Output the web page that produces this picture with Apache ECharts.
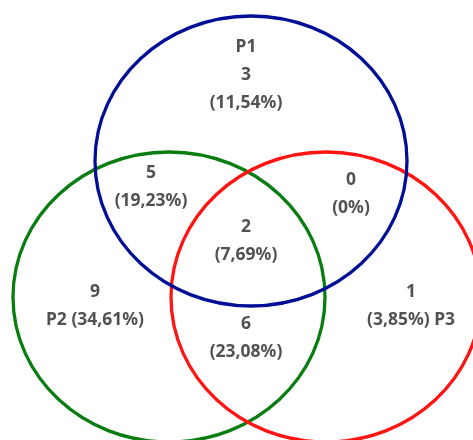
<!DOCTYPE html>
<html><head><meta charset="utf-8">
<script src="https://cdn.jsdelivr.net/npm/echarts@6/dist/echarts.min.js"></script>
<style>html,body{margin:0;padding:0;background:#fff}#c{width:473px;height:440px}</style>
</head><body><div id="c"></div>
<script>
// ---- data ----
const setNames = ['P1', 'P2', 'P3'];
const setColors = ['#000f96', '#0a7d12', '#ff1414'];
const regionSets = ['P1', 'P1∩P2', 'P1∩P3', 'P1∩P2∩P3', 'P2', 'P2∩P3', 'P3'];
const regionCounts = [3, 5, 0, 2, 9, 6, 1];
const regionPercents = ['11,54%', '19,23%', '0%', '7,69%', '34,61%', '23,08%', '3,85%'];

// ---- layout (pixel-like data units) ----
const ellipseLayout = [ // cx, cy, rx, ry for P1, P2, P3
  [251, 161, 156, 145],
  [169, 297, 156, 145],
  [326, 297, 155, 145]
];
const labelLayout = [[246, 75], [151, 187], [351, 194], [246, 241], [95, 306], [246, 338], [411, 306]];
const drawOrder = [1, 2, 0];

function labelText(i) {
  const c = regionCounts[i], p = '(' + regionPercents[i] + ')';
  const name = regionSets[i];
  if (name === 'P1') return 'P1\n' + c + '\n' + p;
  if (name === 'P2') return c + '\nP2 ' + p;
  if (name === 'P3') return c + '\n' + p + ' P3';
  return c + '\n' + p;
}

const chart = echarts.init(document.getElementById('c'), null, {renderer: 'canvas'});
chart.setOption({
  animation: false,
  grid: {left: 0, right: 0, top: 0, bottom: 0},
  xAxis: {type: 'value', min: 0, max: 473, show: false},
  yAxis: {type: 'value', min: 0, max: 440, inverse: true, show: false},
  series: [
    {
      type: 'custom',
      silent: true,
      data: drawOrder.map(k => ellipseLayout[k].concat([k])),
      renderItem: function (params, api) {
        const c = api.coord([api.value(0), api.value(1)]);
        const s = api.size([api.value(2), api.value(3)]);
        const k = api.value(4);
        return {
          type: 'ellipse',
          shape: {cx: c[0], cy: c[1], rx: s[0], ry: s[1]},
          style: {fill: 'none', stroke: setColors[k], lineWidth: 3.3}
        };
      }
    },
    {
      type: 'scatter',
      symbolSize: 0,
      silent: true,
      data: labelLayout.map((p, i) => ({value: p, name: regionSets[i]})),
      label: {
        show: true,
        position: 'inside',
        formatter: function (p) { return labelText(p.dataIndex); },
        fontFamily: 'Noto Sans',
        fontWeight: 'bold',
        fontSize: 17.5,
        lineHeight: 28,
        color: '#262626',
        align: 'center'
      }
    }
  ]
});
</script></body></html>
